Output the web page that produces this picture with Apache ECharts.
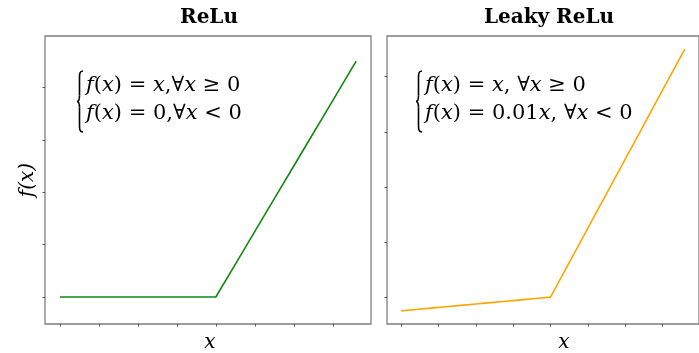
<!DOCTYPE html>
<html>
<head>
<meta charset="utf-8">
<script src="https://cdn.jsdelivr.net/npm/echarts@6/dist/echarts.min.js"></script>
<style>
  html, body { margin: 0; padding: 0; background: #fff; }
  #chart { width: 699px; height: 353px; }
</style>
</head>
<body>
<div id="chart"></div>
<script>
// Sample inputs shared by both panels
const xs = [-10, -9, -8, -7, -6, -5, -4, -3, -2, -1, 0, 1, 2, 3, 4, 5, 6, 7, 8, 9];
// ReLU outputs
const reluY = [0, 0, 0, 0, 0, 0, 0, 0, 0, 0, 0, 1, 2, 3, 4, 5, 6, 7, 8, 9];
// Leaky ReLU outputs
const leakyY = [-0.5, -0.45, -0.4, -0.35, -0.3, -0.25, -0.2, -0.15, -0.1, -0.05, 0, 1, 2, 3, 4, 5, 6, 7, 8, 9];

const xTicks = [-10, -7.5, -5, -2.5, 0, 2.5, 5, 7.5];
const yTicks = [0, 2, 4, 6, 8];

const titles = ['ReLu', 'Leaky ReLu'];
const formulaLeft = [
  '{i|f}{r|(}{i|x}{r|) = }{i|x}{r|,∀}{i|x}{r| ≥ 0}',
  '{i|f}{r|(}{i|x}{r|) = 0,∀}{i|x}{r| < 0}'
];
const formulaRight = [
  '{i|f}{r|(}{i|x}{r|) = }{i|x}{r|, ∀}{i|x}{r| ≥ 0}',
  '{i|f}{r|(}{i|x}{r|) = 0.01}{i|x}{r|, ∀}{i|x}{r| < 0}'
];

const spine = '#7f7f7f';
const mathFont = 'DejaVu Serif';
const richMath = {
  i: { fontFamily: mathFont, fontStyle: 'italic', fontSize: 21, fill: '#000', color: '#000' },
  r: { fontFamily: mathFont, fontSize: 21, fill: '#000', color: '#000' }
};

function pairs(xv, yv) { return xv.map((x, k) => [x, yv[k]]); }

function xAxisFor(idx) {
  return {
    type: 'value', gridIndex: idx, position: 'bottom', min: -10.95, max: 9.95,
    axisLine: { show: false, onZero: false },
    axisTick: { show: true, inside: false, length: 2.5, customValues: xTicks, lineStyle: { color: '#333', width: 0.8 } },
    axisLabel: { show: false },
    splitLine: { show: false }
  };
}
function yAxisFor(idx, lo, hi) {
  return {
    type: 'value', gridIndex: idx, position: 'left', min: lo, max: hi,
    axisLine: { show: false, onZero: false },
    axisTick: { show: true, inside: false, length: 2.5, customValues: yTicks, lineStyle: { color: '#333', width: 0.8 } },
    axisLabel: { show: false },
    splitLine: { show: false }
  };
}

function formulaText(lines, x0, y0) {
  return lines.map((t, k) => ({
    type: 'text', silent: true,
    style: { text: t, x: x0, y: y0 + k * 28, verticalAlign: 'middle', align: 'left', rich: richMath }
  }));
}

// Curly brace for the piecewise definition, built from curves and straight strokes
function brace(x, top, bottom) {
  const mid = (top + bottom) / 2;
  const st = { stroke: '#000', lineWidth: 1.6, fill: null };
  const s = x + 2.5;
  const curve = (x1, y1, c1x, c1y, c2x, c2y, x2, y2) => ({
    type: 'bezierCurve', silent: true,
    shape: { x1: x1, y1: y1, cpx1: c1x, cpy1: c1y, cpx2: c2x, cpy2: c2y, x2: x2, y2: y2 },
    style: st
  });
  const seg = (y1, y2) => ({ type: 'line', silent: true, shape: { x1: s, y1: y1, x2: s, y2: y2 }, style: st });
  return [
    curve(x + 6, top, s, top, s, top + 3, s, top + 7),
    seg(top + 7, mid - 6),
    curve(s, mid - 6, s, mid - 2, x + 1.5, mid, x, mid),
    curve(x, mid, x + 1.5, mid, s, mid + 2, s, mid + 6),
    seg(mid + 6, bottom - 7),
    curve(s, bottom - 7, s, bottom - 3, s, bottom, x + 6, bottom)
  ];
}

const chart = echarts.init(document.getElementById('chart'), null, { renderer: 'canvas' });
chart.setOption({
  animation: false,
  backgroundColor: '#fff',
  grid: [
    { left: 45, top: 36, width: 326, height: 288, show: true, borderColor: spine, borderWidth: 1.3, backgroundColor: 'transparent' },
    { left: 387, top: 36, width: 323, height: 288, show: true, borderColor: spine, borderWidth: 1.3, backgroundColor: 'transparent' }
  ],
  xAxis: [xAxisFor(0), xAxisFor(1)],
  yAxis: [yAxisFor(0, -1.03, 9.96), yAxisFor(1, -0.975, 9.475)],
  series: [
    {
      type: 'line', xAxisIndex: 0, yAxisIndex: 0, data: pairs(xs, reluY),
      showSymbol: false, symbol: 'none', lineStyle: { color: '#118811', width: 1.6 }
    },
    {
      type: 'line', xAxisIndex: 1, yAxisIndex: 1, data: pairs(xs, leakyY),
      showSymbol: false, symbol: 'none', lineStyle: { color: '#ffa500', width: 1.6 }
    }
  ],
  graphic: [
    { type: 'text', silent: true, style: { text: titles[0], x: 209, y: 18, align: 'center', verticalAlign: 'middle', font: 'bold 20px "DejaVu Serif"', fill: '#000' } },
    { type: 'text', silent: true, style: { text: titles[1], x: 549, y: 18, align: 'center', verticalAlign: 'middle', font: 'bold 20px "DejaVu Serif"', fill: '#000' } },
    { type: 'text', silent: true, style: { text: 'x', x: 210, y: 343, align: 'center', verticalAlign: 'middle', font: 'italic 20px "DejaVu Serif"', fill: '#000' } },
    { type: 'text', silent: true, style: { text: 'x', x: 564, y: 343, align: 'center', verticalAlign: 'middle', font: 'italic 20px "DejaVu Serif"', fill: '#000' } },
    { type: 'text', silent: true, rotation: Math.PI / 2, x: 28, y: 180, style: { text: 'f(x)', x: 0, y: 0, align: 'center', verticalAlign: 'middle', font: 'italic 20px "DejaVu Serif"', fill: '#000' } }
  ].concat(brace(77, 71, 132), brace(416, 71, 132),
           formulaText(formulaLeft, 86, 86), formulaText(formulaRight, 425, 86))
});
</script>
</body>
</html>
